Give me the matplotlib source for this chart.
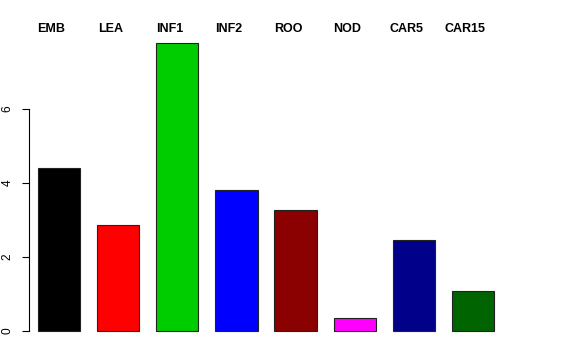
import matplotlib
matplotlib.use("Agg")
import matplotlib.pyplot as plt

# values
tissues = ["EMB", "LEA", "INF1", "INF2", "ROO", "NOD", "CAR5", "CAR15"]
values = [4.41, 2.86, 7.78, 3.81, 3.27, 0.35, 2.46, 1.08]
colors = ["#000000", "#FF0000", "#00CD00", "#0000FF", "#8B0000", "#FF00FF", "#00008B", "#006400"]

plt.rcParams["font.family"] = ["Liberation Sans", "DejaVu Sans"]

W, H = 576, 360
fig = plt.figure(figsize=(W / 100, H / 100), dpi=100)
ax = fig.add_axes([29 / W, (H - 342) / H, (551 - 29) / W, (342 - 32) / H])

# bars of width 1 with space 0.4 between them
pos = [0.9 + 1.4 * i for i in range(len(values))]
ax.bar(pos, values, width=1.0, color=colors, edgecolor="#222222", linewidth=0.8)

px_unit = 456 / 10.8
ax.set_xlim(0.4 - 9 / px_unit, 11.2 + (551 - 494) / px_unit)
ax.set_ylim(-(342 - 331) / 37, (331 - 32) / 37)

for s in ["top", "right", "bottom"]:
    ax.spines[s].set_visible(False)
ax.spines["left"].set_bounds(0, 6)
ax.spines["left"].set_linewidth(0.8)
ax.set_xticks([])
ax.set_yticks([0, 2, 4, 6])
ax.set_yticklabels(["0", "2", "4", "6"], rotation=90, va="center", fontsize=8.6)
ax.tick_params(axis="y", length=4.8, width=0.8, pad=6.5)

# names sit above the plot, a little left of each bar centre
trans = ax.get_xaxis_transform()
for name, x in zip(tissues, pos):
    ax.text(x - 7.5 / px_unit, 1 + 2.5 / 310, name, transform=trans,
            ha="center", va="center", fontsize=9, fontweight="bold", clip_on=False)

fig.savefig("out.png", dpi=100)
